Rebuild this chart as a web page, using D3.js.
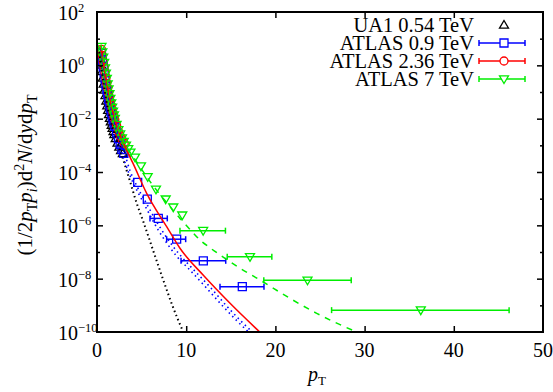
<!DOCTYPE html>
<html>
<head>
<meta charset="utf-8">
<script src="https://cdn.jsdelivr.net/npm/d3@7"></script>
<style>
  body { margin: 0; background: #fff; }
  svg, svg text { font-family: "Liberation Serif", "DejaVu Serif", serif; }
</style>
</head>
<body>
<div class="chart"></div>
<script>
// values, y given as log10
const ua1Pt   = [0.25, 0.35, 0.45, 0.55, 0.65, 0.75, 0.85, 0.95, 1.05, 1.15, 1.25, 1.35, 1.45, 1.55, 1.65, 1.75, 1.85, 1.95, 2.1, 2.3, 2.5, 2.7, 2.9];
const ua1LogY = [0.5, 0.26, 0.02, -0.23, -0.47, -0.7, -0.92, -1.13, -1.33, -1.51, -1.68, -1.84, -1.98, -2.11, -2.24, -2.36, -2.48, -2.59, -2.74, -2.91, -3.06, -3.19, -3.3];

const atlas09Pt   = [0.5, 0.6, 0.7, 0.8, 0.9, 1.0, 1.1, 1.2, 1.3, 1.4, 1.5, 1.6, 1.7, 1.8, 1.9, 2.0, 2.2, 2.4, 2.6, 2.8, 3.0, 4.56, 5.64, 6.87, 8.93, 11.92, 16.29];
const atlas09LogY = [0.45, 0.2, -0.05, -0.28, -0.5, -0.72, -0.92, -1.1, -1.28, -1.44, -1.6, -1.75, -1.89, -2.03, -2.16, -2.29, -2.53, -2.75, -2.96, -3.15, -3.3, -4.39, -5.02, -5.74, -6.52, -7.33, -8.3];
const atlas09ErrAt = [6.87, 8.93, 11.92, 16.29];
const atlas09XLo   = [5.94, 7.81, 9.42, 13.79];
const atlas09XHi   = [7.88, 9.94, 14.43, 18.72];

const atlas236Pt   = [0.5, 0.6, 0.7, 0.8, 0.9, 1.0, 1.1, 1.2, 1.3, 1.4, 1.5, 1.6, 1.7, 1.8, 1.9, 2.0, 2.2, 2.4, 2.6, 2.8, 3.05];
const atlas236LogY = [0.6, 0.37, 0.14, -0.08, -0.29, -0.49, -0.68, -0.86, -1.03, -1.19, -1.35, -1.5, -1.64, -1.78, -1.91, -2.03, -2.26, -2.47, -2.64, -2.78, -2.92];

const atlas7Pt   = [0.5, 0.6, 0.7, 0.8, 0.9, 1.0, 1.1, 1.2, 1.3, 1.4, 1.5, 1.6, 1.7, 1.8, 1.9, 2.0, 2.2, 2.4, 2.6, 2.8, 3.0, 3.25, 3.5, 3.75, 4.26, 4.93, 5.68, 6.61, 7.7, 8.55, 9.56, 11.9, 17.15, 23.6, 36.3];
const atlas7LogY = [0.7, 0.5, 0.3, 0.1, -0.1, -0.3, -0.5, -0.7, -0.89, -1.07, -1.25, -1.42, -1.58, -1.73, -1.87, -2.0, -2.22, -2.42, -2.58, -2.73, -2.86, -3.0, -3.13, -3.26, -3.45, -3.78, -4.18, -4.65, -5.02, -5.32, -5.62, -6.2, -7.18, -8.06, -9.18];
const atlas7ErrAt = [11.9, 17.15, 23.6, 36.3];
const atlas7XLo   = [9.3, 14.6, 18.7, 26.3];
const atlas7XHi   = [14.4, 19.6, 28.5, 46.2];

// fit curves
const ua1FitPt   = [0.25, 0.5, 1.0, 1.5, 2.0, 2.5, 2.95, 3.7, 4.45, 5.19, 6.3, 7.43, 8.5, 9.67, 10.2];
const ua1FitLogY = [0.5, -0.1, -1.25, -2.05, -2.6, -3.1, -3.55, -4.35, -5.17, -5.86, -6.95, -8.05, -9.05, -10.0, -10.4];

const fit09aPt   = [0.4, 0.6, 1.0, 1.5, 2.0, 2.5, 2.77, 3.3, 4.07, 5.0, 6.13, 6.87, 8.0, 9.3, 10.05, 12.3, 14.16, 17.15, 18];
const fit09aLogY = [0.6, 0.18, -0.7, -1.55, -2.25, -2.9, -3.25, -3.8, -4.42, -5.02, -5.74, -6.18, -6.75, -7.3, -7.55, -8.36, -9.05, -10.05, -10.3];
const fit09bPt   = [0.4, 0.6, 1.0, 1.5, 2.0, 2.5, 3.0, 3.7, 4.5, 5.5, 6.6, 7.3, 8.5, 9.8, 10.5, 12.8, 14.6, 17.6, 18.5];
const fit09bLogY = [0.65, 0.25, -0.62, -1.45, -2.12, -2.72, -3.2, -3.95, -4.55, -5.15, -5.82, -6.2, -6.78, -7.3, -7.55, -8.36, -9.05, -10.05, -10.3];

const fit236Pt   = [0.4, 0.6, 1.0, 1.5, 2.0, 2.5, 3.0, 3.32, 4.0, 5.57, 7.81, 9.3, 12.0, 15.0, 18.4, 19.5];
const fit236LogY = [0.75, 0.35, -0.5, -1.35, -2.03, -2.55, -2.95, -3.18, -3.65, -4.8, -6.05, -6.86, -7.9, -8.95, -10.05, -10.4];

const fit7Pt   = [0.45, 0.6, 1.0, 1.5, 2.0, 2.5, 3.0, 4.0, 5.0, 6.0, 7.0, 8.0, 9.3, 10.5, 11.55, 12.7, 13.79, 16.03, 18.27, 21.64, 24.63, 29.1, 30.5];
const fit7LogY = [0.78, 0.48, -0.3, -1.2, -1.95, -2.5, -2.9, -3.4, -3.9, -4.38, -4.82, -5.22, -5.74, -6.18, -6.55, -6.85, -7.11, -7.61, -8.05, -8.74, -9.3, -10.0, -10.2];

const xTicks = [0, 10, 20, 30, 40, 50];
const yExps  = [2, 0, -2, -4, -6, -8, -10];
const yMinorExps = [1, -1, -3, -5, -7, -9];

const legendNames = ["UA1 0.54 TeV", "ATLAS 0.9 TeV", "ATLAS 2.36 TeV", "ATLAS 7 TeV"];

const W = 553, H = 392;
const pL = 97, pR = 543, pT = 12, pB = 332;
const GREEN = "#00ee00";
const FONT = "'Liberation Serif', 'DejaVu Serif', serif";

const svg = d3.select(".chart")
  .append("svg")
    .attr("width", W)
    .attr("height", H)
    .attr("font-family", FONT);

const x = d3.scaleLinear().domain([0, 50]).range([pL, pR]);
const y = d3.scaleLog().domain([1e-10, 1e2]).range([pB, pT]);

svg.append("clipPath").attr("id", "clip")
  .append("rect")
    .attr("x", pL).attr("y", pT)
    .attr("width", pR - pL).attr("height", pB - pT);

const plot = svg.append("g").attr("clip-path", "url(#clip)");

const zip = (a, b) => a.map((v, i) => [v, b[i]]);

// marker shapes
const triUp = "M0,-4.5L4.5,3.2L-4.5,3.2Z";
const triDown = "M0,4.5L4.5,-3.2L-4.5,-3.2Z";
const square = "M-4,-4H4V4H-4Z";

const drawErr = (g, at, lo, hi, pts, color) => {
  at.forEach((p, i) => {
    const j = pts.findIndex(d => d[0] === p);
    const yy = y(10 ** pts[j][1]);
    g.append("line")
      .attr("x1", x(lo[i])).attr("x2", x(hi[i]))
      .attr("y1", yy).attr("y2", yy)
      .attr("stroke", color).attr("stroke-width", 1.5);
    [lo[i], hi[i]].forEach(e => {
      g.append("line")
        .attr("x1", x(e)).attr("x2", x(e))
        .attr("y1", yy - 3).attr("y2", yy + 3)
        .attr("stroke", color).attr("stroke-width", 1.5);
    });
  });
};

const drawMarks = (g, pts, shape, color) => {
  g.selectAll(null)
    .data(pts)
    .join("path")
      .attr("d", shape)
      .attr("transform", d => `translate(${x(d[0])},${y(10 ** d[1])})`)
      .attr("fill", "none")
      .attr("stroke", color)
      .attr("stroke-width", 1.3);
};

const ua1 = zip(ua1Pt, ua1LogY);
const a09 = zip(atlas09Pt, atlas09LogY);
const a236 = zip(atlas236Pt, atlas236LogY);
const a7 = zip(atlas7Pt, atlas7LogY);

drawMarks(plot, ua1, triUp, "#000");
drawErr(plot, atlas09ErrAt, atlas09XLo, atlas09XHi, a09, "#0000ff");
drawMarks(plot, a09, square, "#0000ff");
plot.selectAll(null)
  .data(a236)
  .join("circle")
    .attr("cx", d => x(d[0]))
    .attr("cy", d => y(10 ** d[1]))
    .attr("r", 4)
    .attr("fill", "none")
    .attr("stroke", "#ff0000")
    .attr("stroke-width", 1.3);
drawErr(plot, atlas7ErrAt, atlas7XLo, atlas7XHi, a7, GREEN);
drawMarks(plot, a7, triDown, GREEN);

// fits
const line = d3.line()
  .x(d => x(d[0]))
  .y(d => y(10 ** d[1]))
  .curve(d3.curveMonotoneX);

const fits = [
  { pts: zip(ua1FitPt, ua1FitLogY), color: "#000", dash: "1.5,3", w: 2 },
  { pts: zip(fit09aPt, fit09aLogY), color: "#0000ff", dash: "1.5,3.5", w: 1.6 },
  { pts: zip(fit09bPt, fit09bLogY), color: "#0000ff", dash: "1.5,3.5", w: 1.6 },
  { pts: zip(fit236Pt, fit236LogY), color: "#ff0000", dash: null, w: 1.5 },
  { pts: zip(fit7Pt, fit7LogY), color: GREEN, dash: "6,6", w: 1.5 }
];
fits.forEach(f => {
  plot.append("path")
    .attr("d", line(f.pts))
    .attr("fill", "none")
    .attr("stroke", f.color)
    .attr("stroke-width", f.w)
    .attr("stroke-dasharray", f.dash);
});

// axes: ticks inward on all four sides
const tickStyle = g => {
  g.select(".domain").remove();
  g.selectAll("line").attr("stroke", "#000").attr("stroke-width", 1.5);
  g.selectAll("text").remove();
};
svg.append("g").attr("transform", `translate(0,${pB})`)
  .call(d3.axisBottom(x).tickValues(xTicks.slice(1, -1)).tickSize(-6)).call(tickStyle);
svg.append("g").attr("transform", `translate(0,${pT})`)
  .call(d3.axisTop(x).tickValues(xTicks.slice(1, -1)).tickSize(-6)).call(tickStyle);
svg.append("g").attr("transform", `translate(${pL},0)`)
  .call(d3.axisLeft(y).tickValues(yExps.slice(1, -1).map(e => 10 ** e)).tickSize(-6)).call(tickStyle);
svg.append("g").attr("transform", `translate(${pR},0)`)
  .call(d3.axisRight(y).tickValues(yExps.slice(1, -1).map(e => 10 ** e)).tickSize(-6)).call(tickStyle);
svg.append("g").attr("transform", `translate(${pL},0)`)
  .call(d3.axisLeft(y).tickValues(yMinorExps.map(e => 10 ** e)).tickSize(-3)).call(tickStyle);
svg.append("g").attr("transform", `translate(${pR},0)`)
  .call(d3.axisRight(y).tickValues(yMinorExps.map(e => 10 ** e)).tickSize(-3)).call(tickStyle);

svg.append("rect")
  .attr("x", pL).attr("y", pT)
  .attr("width", pR - pL).attr("height", pB - pT)
  .attr("fill", "none").attr("stroke", "#000").attr("stroke-width", 2);

// tick labels
svg.append("g").selectAll("text")
  .data(xTicks)
  .join("text")
    .attr("x", d => x(d))
    .attr("y", 357)
    .attr("text-anchor", "middle")
    .attr("font-size", 20)
    .text(d => d);

const yl = svg.append("g").selectAll("text")
  .data(yExps)
  .join("text")
    .attr("x", 58)
    .attr("y", d => y(10 ** d) + 8)
    .attr("font-size", 20);
yl.append("tspan").text("10");
yl.append("tspan")
  .attr("dy", -8)
  .attr("font-size", 12.5)
  .text(d => d < 0 ? "\u2212" + (-d) : d);

// axis titles
const xt = svg.append("text")
  .attr("x", 317).attr("y", 381)
  .attr("text-anchor", "middle")
  .attr("font-size", 20);
xt.append("tspan").attr("font-style", "italic").text("p");
xt.append("tspan").attr("dy", 4).attr("font-size", 13).text("T");

const ytitle = svg.append("text")
  .attr("transform", "translate(32,175) rotate(-90)")
  .attr("text-anchor", "middle")
  .attr("font-size", 21);
const parts = [
  ["(1/2", "n"], ["p", "i"], ["T", "sub"], ["p", "i"], ["i", "subi"], [")d", "n"], ["2", "sup"],
  ["N", "i"], ["/d", "n"], ["y", "i"], ["d", "n"], ["p", "i"], ["T", "sub"]
];
let shift = 0;
parts.forEach(([t, kind]) => {
  const target = kind === "sub" || kind === "subi" ? 5 : kind === "sup" ? -8 : 0;
  ytitle.append("tspan")
    .attr("dy", target - shift)
    .attr("font-size", target !== 0 ? 14 : 21)
    .attr("font-style", kind === "i" || kind === "subi" ? "italic" : null)
    .text(t);
  shift = target;
});

// legend
const lg = svg.append("g");
const rowY = [25, 43, 61, 79];
const legendColors = ["#000", "#0000ff", "#ff0000", GREEN];
const legendShapes = [triUp, square, null, triDown];
legendNames.forEach((name, i) => {
  lg.append("text")
    .attr("x", 474).attr("y", rowY[i] + 7)
    .attr("text-anchor", "end")
    .attr("font-size", 20.5)
    .text(name);
  const c = legendColors[i];
  if (i > 0) {
    lg.append("line").attr("x1", 479).attr("x2", 525).attr("y1", rowY[i]).attr("y2", rowY[i])
      .attr("stroke", c).attr("stroke-width", 1.5);
    [479, 525].forEach(ex => lg.append("line")
      .attr("x1", ex).attr("x2", ex).attr("y1", rowY[i] - 3).attr("y2", rowY[i] + 3)
      .attr("stroke", c).attr("stroke-width", 1.5));
  }
  if (legendShapes[i]) {
    lg.append("path").attr("d", legendShapes[i])
      .attr("transform", `translate(504,${rowY[i]})`)
      .attr("fill", i > 0 ? "#fff" : "none").attr("stroke", c).attr("stroke-width", 1.3);
  } else {
    lg.append("circle").attr("cx", 504).attr("cy", rowY[i]).attr("r", 4)
      .attr("fill", "#fff").attr("stroke", c).attr("stroke-width", 1.3);
  }
});
</script>
</body>
</html>
